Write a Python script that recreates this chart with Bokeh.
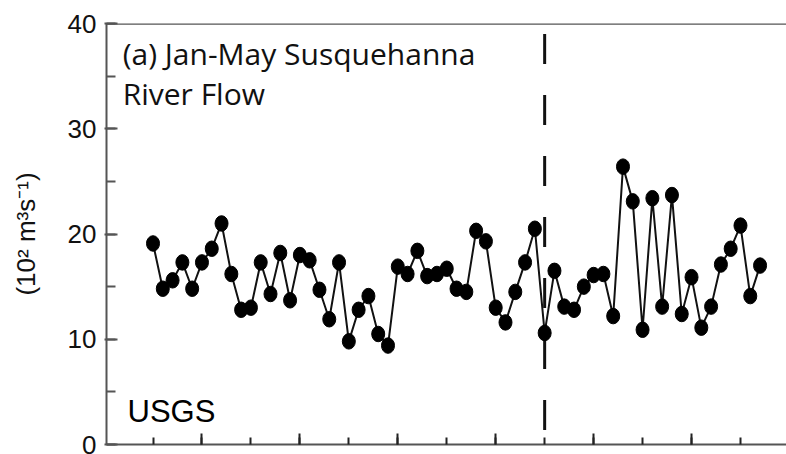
from bokeh.plotting import figure
from bokeh.models import (Range1d, SingleIntervalTicker, Span, Label, ColumnDataSource,
                          CustomJSTickFormatter)
from bokeh.embed import file_html
from bokeh.resources import INLINE

# Jan-May mean Susquehanna River flow (10^2 m^3 s^-1), USGS
years = list(range(1945, 2008))
flow = [19.1, 14.8, 15.6, 17.3, 14.8, 17.3, 18.6, 21.0, 16.2, 12.8,
        13.0, 17.3, 14.3, 18.2, 13.7, 18.0, 17.5, 14.7, 11.9, 17.3,
        9.8, 12.8, 14.1, 10.5, 9.4, 16.9, 16.2, 18.4, 16.0, 16.2,
        16.7, 14.8, 14.5, 20.3, 19.3, 13.0, 11.6, 14.5, 17.3, 20.5,
        10.6, 16.5, 13.1, 12.8, 15.0, 16.1, 16.2, 12.2, 26.4, 23.1,
        10.9, 23.4, 13.1, 23.7, 12.4, 15.9, 11.1, 13.1, 17.1, 18.6,
        20.8, 14.1, 17.0]
break_year = 1985

src = ColumnDataSource(data=dict(year=years, flow=flow))

p = figure(width=786, height=454, output_backend="svg", toolbar_location=None,
           x_range=Range1d(1940.25, 2009.7), y_range=Range1d(0, 40),
           min_border_left=106, min_border_right=0, min_border_top=23,
           min_border_bottom=10)
p.outline_line_color = None
p.grid.visible = False
p.background_fill_color = "white"
p.border_fill_color = "white"

axis_color = "#555555"

# y axis
p.yaxis.ticker = SingleIntervalTicker(interval=10, num_minor_ticks=2)
p.yaxis.axis_line_color = axis_color
p.yaxis.axis_line_width = 2
p.yaxis.major_tick_line_color = axis_color
p.yaxis.major_tick_line_width = 2
p.yaxis.major_tick_in = 11
p.yaxis.major_tick_out = 2
p.yaxis.minor_tick_line_color = axis_color
p.yaxis.minor_tick_line_width = 2
p.yaxis.minor_tick_in = 9
p.yaxis.minor_tick_out = 0
p.yaxis.major_label_text_font = "Liberation Sans"
p.yaxis.major_label_text_font_size = "26px"
p.yaxis.major_label_text_color = "#111111"
p.yaxis.major_label_standoff = 8
p.yaxis.axis_label = "(10² m³s⁻¹)"
p.yaxis.axis_label_text_font = "Liberation Sans"
p.yaxis.axis_label_text_font_size = "26px"
p.yaxis.axis_label_text_font_style = "normal"
p.yaxis.axis_label_text_color = "#111111"
p.yaxis.axis_label_standoff = 24

# x axis: inward ticks only, no labels
p.xaxis.ticker = SingleIntervalTicker(interval=10, num_minor_ticks=2)
p.xaxis.formatter = CustomJSTickFormatter(code="return ''")
p.xaxis.axis_line_color = axis_color
p.xaxis.axis_line_width = 2
p.xaxis.major_tick_line_color = "#222222"
p.xaxis.major_tick_line_width = 2
p.xaxis.major_tick_in = 11
p.xaxis.major_tick_out = 0
p.xaxis.minor_tick_line_color = "#222222"
p.xaxis.minor_tick_line_width = 2
p.xaxis.minor_tick_in = 7
p.xaxis.minor_tick_out = 0
p.xaxis.major_label_text_font_size = "1px"
p.xaxis.major_label_standoff = 0

# top border line
p.add_layout(Span(location=40, dimension="width", line_color=axis_color, line_width=2.5))

# dashed break line
p.segment(x0=[break_year], y0=[39], x1=[break_year], y1=[0],
          line_color="#111111", line_width=3, line_dash="30 31")

# series
p.line("year", "flow", source=src, line_color="#111111", line_width=2)
p.ellipse("year", "flow", source=src, width=13, height=15.5,
          width_units="screen", height_units="screen",
          fill_color="#000000", line_color="#000000")

# annotations
p.add_layout(Label(x=1941.9, y=37.17, text="(a) Jan-May Susquehanna",
                   text_font="Open Sans", text_font_size="30px",
                   text_color="#111111", text_baseline="alphabetic"))
p.add_layout(Label(x=1941.9, y=33.37, text="River Flow",
                   text_font="Open Sans", text_font_size="30px",
                   text_color="#111111", text_baseline="alphabetic"))
p.add_layout(Label(x=1942.4, y=3.15, text="USGS",
                   text_font="Liberation Sans", text_font_size="31px",
                   text_color="#000000", text_baseline="alphabetic"))

open("out.html", "w").write(file_html(p, INLINE))
